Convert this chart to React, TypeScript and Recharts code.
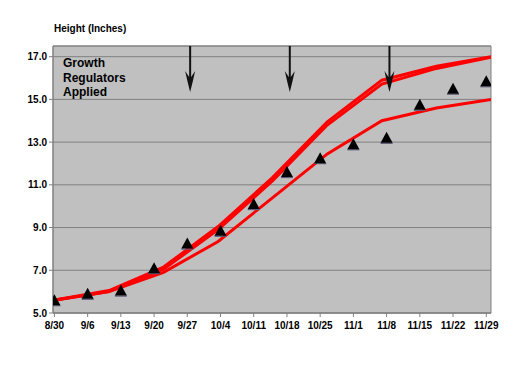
import React from 'react';
import {
  ComposedChart,
  Line,
  Scatter,
  XAxis,
  YAxis,
  CartesianGrid,
  ReferenceLine,
  ReferenceArea,
} from 'recharts';

// weekly sampling dates (x axis categories)
const dateLabels = ['8/30', '9/6', '9/13', '9/20', '9/27', '10/4', '10/11', '10/18', '10/25', '11/1', '11/8', '11/15', '11/22', '11/29'];
const dateDays = [0, 7, 14, 21, 28, 35, 42, 49, 56, 63, 70, 77, 84, 91];

// measured plant height (triangles)
const measuredHeight = [5.6, 5.9, 6.05, 7.1, 8.25, 8.85, 10.1, 11.6, 12.25, 12.9, 13.2, 14.75, 15.5, 15.85];

// model curves (red lines)
const curveDays = [-0.3, 11.5, 23, 34.5, 46, 57.5, 69, 80.5, 92];
const upperCurveA = [5.6, 6.05, 7.15, 9.05, 11.35, 13.95, 15.9, 16.55, 17.0];
const upperCurveB = [5.6, 6.0, 7.05, 8.9, 11.2, 13.8, 15.72, 16.45, 16.98];
const lowerCurve = [5.58, 6.0, 6.9, 8.35, 10.4, 12.45, 14.0, 14.6, 15.0];

// growth regulator application arrows
const applicationDays = [28.6, 49.6, 70.6];
const arrowTop = 17.5;
const arrowTip = 15.35;

const yTicks = [5, 7, 9, 11, 13, 15, 17];

const measured = dateDays.map((day, i) => ({ day, height: measuredHeight[i] }));
const upperA = curveDays.map((day, i) => ({ day, height: upperCurveA[i] }));
const upperB = curveDays.map((day, i) => ({ day, height: upperCurveB[i] }));
const lower = curveDays.map((day, i) => ({ day, height: lowerCurve[i] }));

const font = '"Liberation Sans", Arial, sans-serif';
const tickStyle = { fill: '#000', fontSize: 10, fontWeight: 'bold', fontFamily: font };

const Triangle = (props: any) => {
  const { cx, cy } = props;
  if (cx == null || cy == null) return null;
  return (
    <g>
      <line x1={cx - 6} y1={cy + 5.5} x2={cx + 6} y2={cy + 5.5} stroke="#5a5a78" strokeWidth={1.2} />
      <polygon points={`${cx},${cy - 6} ${cx - 6},${cy + 5} ${cx + 6},${cy + 5}`} fill="#000" />
    </g>
  );
};

const Arrow = (props: any) => {
  const { x1, y1, y2 } = props;
  if (x1 == null) return null;
  const x = x1;
  return (
    <g>
      <line x1={x} y1={y1} x2={x} y2={y2 - 14} stroke="#111" strokeWidth={2} />
      <polygon
        points={`${x - 5},${y2 - 21} ${x - 1},${y2 - 15} ${x + 1},${y2 - 15} ${x + 5},${y2 - 21} ${x + 2.5},${y2 - 10} ${x},${y2} ${x - 2.5},${y2 - 10}`}
        fill="#111"
      />
    </g>
  );
};

export default function App() {
  return (
    <div style={{ position: 'absolute', left: 0, top: 0, width: 525, height: 365, background: '#fff' }}>
      <div
        style={{
          position: 'absolute',
          left: 54,
          top: 23,
          fontFamily: font,
          fontWeight: 'bold',
          fontSize: 10,
          lineHeight: '12px',
          color: '#000',
        }}
      >
        Height (Inches)
      </div>
      <ComposedChart width={525} height={365} margin={{ top: 46, right: 34, bottom: 22, left: 0 }}>
        <CartesianGrid vertical={false} stroke="#808080" fill="#C0C0C0" fillOpacity={1} />
        <ReferenceArea x1={-0.3} x2={92} y1={5} y2={17.5} stroke="#808080" strokeWidth={1} fill="none" fillOpacity={0} />
        <XAxis
          type="number"
          dataKey="day"
          domain={[-0.3, 92]}
          ticks={dateDays}
          interval={0}
          allowDataOverflow
          tickFormatter={(v: number) => dateLabels[dateDays.indexOf(v)]}
          tick={tickStyle}
          tickSize={4}
          tickMargin={5}
          height={30}
          axisLine={{ stroke: '#808080' }}
          tickLine={{ stroke: '#808080' }}
        />
        <YAxis
          type="number"
          domain={[5, 17.5]}
          ticks={yTicks}
          interval={0}
          allowDataOverflow
          tickFormatter={(v: number) => v.toFixed(1)}
          tick={tickStyle}
          tickSize={4}
          width={53}
          axisLine={{ stroke: '#808080' }}
          tickLine={{ stroke: '#808080' }}
        />
        <Line data={lower} dataKey="height" type="linear" stroke="#FF0000" strokeWidth={3} dot={false} isAnimationActive={false} />
        <Line data={upperB} dataKey="height" type="linear" stroke="#FF0000" strokeWidth={3} dot={false} isAnimationActive={false} />
        <Line data={upperA} dataKey="height" type="linear" stroke="#FF0000" strokeWidth={3} dot={false} isAnimationActive={false} />
        <Scatter data={measured} dataKey="height" shape={<Triangle />} isAnimationActive={false} />
        {applicationDays.map((d) => (
          <ReferenceLine
            key={d}
            segment={[{ x: d, y: arrowTop }, { x: d, y: arrowTip }]}
            shape={<Arrow />}
          />
        ))}
      </ComposedChart>
      <div
        style={{
          position: 'absolute',
          left: 63,
          top: 56,
          fontFamily: font,
          fontWeight: 'bold',
          fontSize: 12,
          lineHeight: '14.5px',
          color: '#000',
        }}
      >
        Growth
        <br />
        Regulators
        <br />
        Applied
      </div>
    </div>
  );
}
